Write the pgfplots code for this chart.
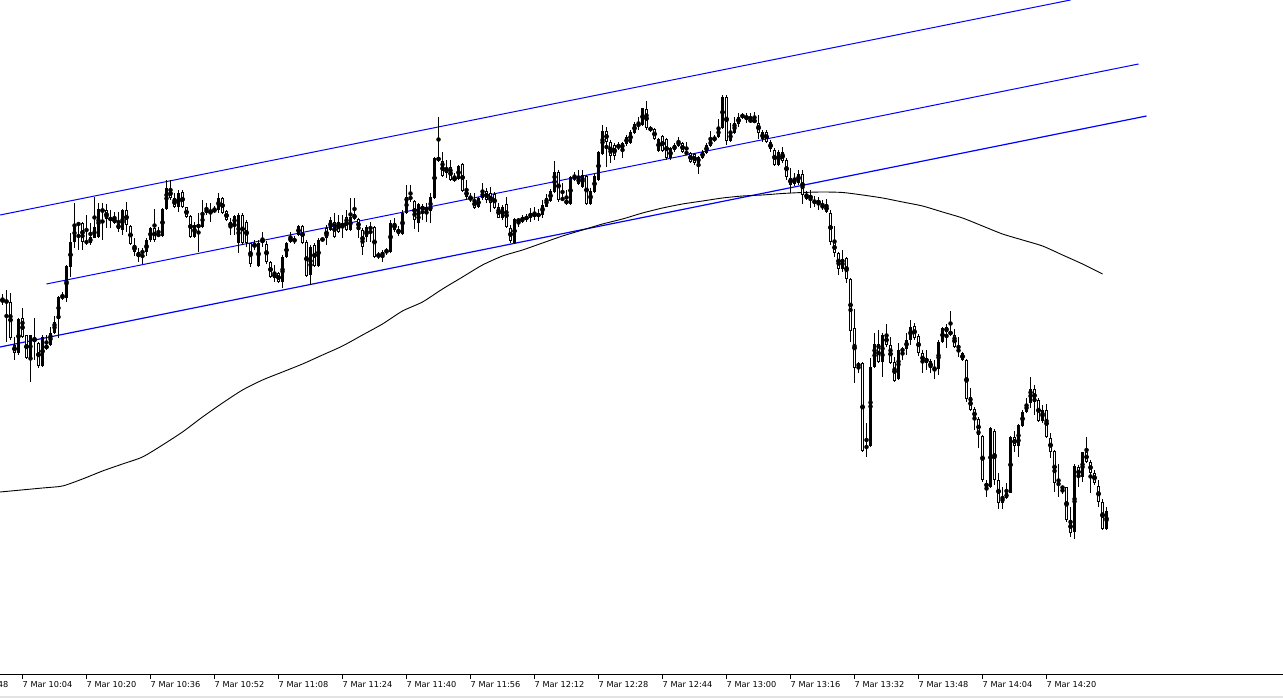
\documentclass[border=0pt]{standalone}
\usepackage{pgfplots}
\pgfplotsset{compat=1.18}
\usepackage{pgfplotstable}
\usepackage{fontspec}
\setmainfont{DejaVu Sans}

% one-minute candles, k = minutes after 10:04, prices in screen rows (larger = lower)
\pgfplotstableread{
k o h l c
-5 299 294 305 302
-4 300 290 342 303
-3 302 293 340 338
-2 345 337 360 353
-1 353 318 355 319
0 318 308 338 337
1 335 335 359 358
2 358 335 382 335
3 338 318 360 342
4 343 342 368 366
5 366 335 367 337
6 345 335 350 349
7 345 327 346 333
8 333 316 334 322
9 319 296 338 297
10 296 292 300 298
11 298 265 302 266
12 267 233 277 242
13 242 203 248 224
14 224 222 250 224
15 223 222 250 242
16 241 215 245 243
17 243 223 245 237
18 238 197 238 227
19 237 203 238 209
20 209 203 240 212
21 210 204 228 219
22 218 210 228 220
23 218 212 224 223
24 224 212 232 229
25 230 209 235 210
26 210 202 232 225
27 226 225 245 244
28 245 238 256 252
29 252 248 262 257
30 253 248 264 251
31 252 238 256 240
32 240 227 242 228
33 228 209 242 240
34 236 227 237 234
35 236 208 237 209
36 209 180 210 188
37 189 180 200 198
38 198 193 208 207
39 207 190 212 193
40 192 190 208 207
41 207 207 218 217
42 216 215 238 237
43 237 222 238 225
44 224 213 252 228
45 227 200 228 213
46 213 203 215 209
47 210 203 222 213
48 212 206 213 209
49 210 193 213 198
50 198 197 214 213
51 211 210 221 220
52 222 218 235 227
53 225 215 235 216
54 243 213 253 215
55 215 213 245 243
56 222 220 247 243
57 243 243 267 264
58 244 240 250 247
59 266 240 267 243
60 239 232 247 243
61 244 241 264 262
62 262 261 278 277
63 273 265 282 278
64 273 272 283 282
65 282 255 288 257
66 257 242 258 243
67 237 232 243 242
68 242 236 244 239
69 235 225 236 226
70 226 225 244 243
71 242 240 277 276
72 275 245 285 247
73 245 243 267 266
74 266 238 267 240
75 240 238 241 239
76 228 225 245 238
77 230 217 231 220
78 222 213 238 237
79 222 215 233 232
80 223 215 238 227
81 217 210 231 230
82 230 198 231 217
83 214 198 220 219
84 219 218 238 230
85 230 228 255 247
86 237 225 242 227
87 227 222 242 229
88 227 226 258 257
89 254 252 259 257
90 256 250 262 252
91 252 248 255 250
92 252 220 253 223
93 223 218 232 230
94 229 226 236 234
95 234 210 235 213
96 213 185 214 197
97 197 185 202 199
98 201 200 229 220
99 223 203 232 204
100 206 204 220 210
101 207 203 222 211
102 211 193 223 197
103 198 157 199 158
104 157 117 162 161
105 161 152 177 176
106 168 160 178 173
107 167 160 181 180
108 177 173 182 181
109 179 165 180 166
110 164 163 192 191
111 190 180 200 197
112 197 193 202 200
113 200 193 209 208
114 207 197 208 198
115 198 183 200 192
116 191 188 203 200
117 193 187 212 203
118 194 192 209 208
119 207 203 218 218
120 218 205 220 207
121 204 197 228 227
122 228 225 243 241
123 243 218 244 219
124 219 218 227 222
125 222 215 223 217
126 217 214 222 219
127 218 208 222 213
128 213 207 220 217
129 217 209 221 213
130 215 200 218 205
131 207 194 207 198
132 201 189 202 191
133 192 161 193 172
134 172 170 202 200
135 198 183 201 200
136 200 190 205 204
137 204 176 205 177
138 177 172 181 179
139 184 170 185 177
140 187 170 188 175
141 176 175 205 204
142 204 188 205 191
143 192 174 193 176
144 180 151 181 152
145 154 125 155 131
146 131 127 167 142
147 142 140 163 156
148 145 143 160 156
149 145 142 150 148
150 149 142 158 143
151 144 135 146 137
152 143 130 144 132
153 133 122 134 124
154 124 117 130 126
155 125 108 126 108
156 109 101 130 128
157 128 126 132 130
158 129 128 140 139
159 151 138 152 139
160 136 135 152 151
161 139 138 160 158
162 158 147 160 148
163 150 143 152 145
164 146 137 147 141
165 143 142 153 152
166 152 142 155 154
167 153 152 163 162
168 154 153 165 163
169 163 156 174 157
170 158 150 159 152
171 153 143 154 145
172 146 131 147 140
173 141 135 142 137
174 137 119 138 128
175 128 95 129 97
176 97 95 145 141
177 141 123 142 132
178 133 117 134 123
179 117 113 127 124
180 115 113 119 117
181 116 113 123 119
182 119 113 123 122
183 119 112 123 123
184 123 115 139 133
185 139 130 142 132
186 132 130 143 142
187 142 140 152 149
188 150 148 166 165
189 165 150 166 152
190 152 147 163 161
191 160 158 180 177
192 178 168 193 185
193 184 173 186 178
194 183 170 185 174
195 174 170 204 195
196 199 191 200 194
197 195 190 208 199
198 203 196 207 201
199 200 197 210 204
200 208 200 210 205
201 205 199 213 212
202 213 210 245 242
203 242 226 257 253
204 253 252 275 269
205 269 250 272 259
206 258 257 283 279
207 279 278 342 331
208 328 309 383 368
209 367 362 373 363
210 363 362 452 451
211 448 423 457 446
212 446 358 447 367
213 367 333 368 344
214 344 330 363 362
215 362 333 377 335
216 335 324 347 345
217 345 337 364 363
218 362 357 382 381
219 379 343 380 350
220 351 347 360 349
221 349 333 355 340
222 340 320 345 327
223 326 323 340 338
224 336 334 356 353
225 353 350 373 363
226 363 350 370 358
227 361 359 373 368
228 369 360 379 368
229 369 340 375 342
230 342 327 343 328
231 327 324 348 332
232 331 311 336 335
233 335 329 348 347
234 351 337 357 350
235 353 352 361 360
236 360 359 402 399
237 397 388 411 410
238 409 407 430 419
239 419 417 448 435
240 436 435 482 480
241 483 480 497 487
242 487 427 488 428
243 431 429 485 480
244 480 473 509 503
245 503 487 509 497
246 498 483 499 493
247 493 436 493 437
248 437 431 452 446
249 446 424 457 425
250 426 410 427 412
251 412 398 413 404
252 403 377 408 389
253 389 385 415 402
254 400 398 422 421
255 421 405 423 410
256 410 404 438 437
257 438 433 458 452
258 451 450 492 483
259 483 464 497 485
260 487 487 494 488
261 487 487 522 520
262 520 507 537 533
263 532 464 539 466
264 467 465 487 477
265 477 452 482 452
266 452 437 463 462
267 462 460 493 473
268 473 470 485 483
269 486 480 507 502
270 502 499 530 529
271 529 507 530 511
}\candles

% moving average, screen rows
\pgfplotstableread{
k y
-5.6 492
5 488
10 486
15 479
20 471
25 464
30 457
35 445
40 432
45 417
50 403
55 390
60 380
65 372
70 364
75 355
80 346
85 335
90 324
95 311
100 302
105 289
110 277
115 265
120 256
125 250
130 243
135 236
140 230
145 224
150 219
155 213
160 208
165 204
170 201
175 198
180 196
185 195
190 193.5
195 192.5
200 192
205 192.5
210 195
215 198
220 202
225 206
230 212
235 218
240 226
245 234
250 240
255 246
260 255
265 264
270 274
}\ma

\newcommand{\tickfont}{\fontsize{8.2}{10}\selectfont}

\begin{document}
\begin{tikzpicture}
\begin{axis}[
    at={(0pt,0pt)}, anchor=south west,
    scale only axis, width=1283pt, height=675pt,
    xmin=-5.625, xmax=315.125, ymin=0, ymax=675,
    enlargelimits=false, clip=false,
    axis x line=bottom, axis y line=none,
    axis line style={-, black, line width=1pt},
    xtick={0,16,...,256},
    xticklabels={7 Mar 10:04,7 Mar 10:20,7 Mar 10:36,7 Mar 10:52,7 Mar 11:08,7 Mar 11:24,7 Mar 11:40,7 Mar 11:56,7 Mar 12:12,7 Mar 12:28,7 Mar 12:44,7 Mar 13:00,7 Mar 13:16,7 Mar 13:32,7 Mar 13:48,7 Mar 14:04,7 Mar 14:20},
    tick align=outside, major tick length=4pt,
    tick style={black, line width=1pt},
    xticklabel style={anchor=north west, inner sep=0pt, font=\tickfont, yshift=-2pt},
    ytick=\empty,
]
% channel
\addplot[blue, line width=1pt, mark=none] coordinates {(-5.6,460) (262,675)};
\addplot[blue, line width=1pt, mark=none] coordinates {(6,391) (279,611)};
\addplot[blue, line width=1.2pt, mark=none] coordinates {(-5.6,328) (281,559)};
% moving average
\addplot[black, line width=0.9pt, mark=none, smooth, tension=0.4] table[x=k, y expr=675-\thisrow{y}] {\ma};
% wicks
\addplot[only marks, mark=none, error bars/.cd, y dir=both, y explicit, error mark=none,
    error bar style={black, line width=1pt}]
  table[x=k, y expr={675-(\thisrow{h}+\thisrow{l})/2}, y error expr={(\thisrow{l}-\thisrow{h})/2}] {\candles};
% bodies
\addplot[only marks, mark=none, error bars/.cd, y dir=both, y explicit, error mark=none,
    error bar style={black, line width=3pt}]
  table[x=k, y expr={675-(\thisrow{o}+\thisrow{c})/2}, y error expr={max(abs(\thisrow{o}-\thisrow{c})/2,0.5)}] {\candles};
% hollow inside of falling candles
\addplot[only marks, mark=none, restrict y to domain=0:675, error bars/.cd, y dir=both, y explicit, error mark=none,
    error bar style={white, line width=1pt}]
  table[x=k, y expr={(\thisrow{c}-\thisrow{o}>2.5) ? (675-(\thisrow{o}+\thisrow{c})/2) : (-999)}, y error expr={(\thisrow{c}-\thisrow{o})/2-1}] {\candles};
\node[anchor=north west, inner sep=0pt, font=\tickfont] at ([yshift=-6pt]axis cs:-16,0) {7 Mar 09:48};
\end{axis}
\fill[gray!22] (0pt,-21pt) rectangle (1283pt,-23pt);
\pgfresetboundingbox
\path[use as bounding box] (0pt,-23pt) rectangle (1283pt,675pt);
\end{tikzpicture}
\end{document}
